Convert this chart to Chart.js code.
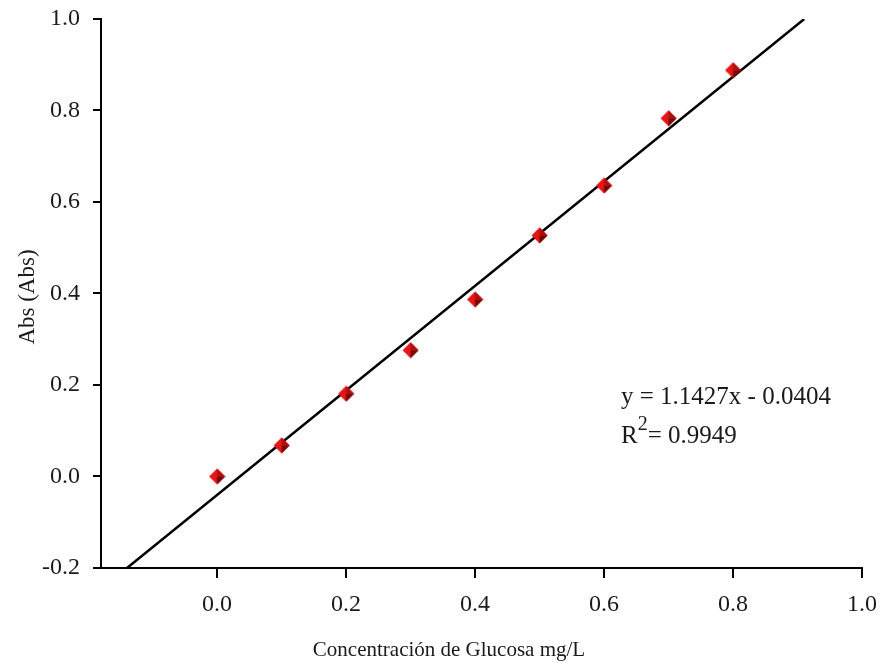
<!DOCTYPE html>
<html>
<head>
<meta charset="utf-8">
<script src="https://cdn.jsdelivr.net/npm/chart.js@4.4.1/dist/chart.umd.min.js"></script>
<style>
html,body{margin:0;padding:0;background:#fff;}
</style>
</head>
<body>
<canvas id="calib" width="884" height="668"></canvas>
<script>
// datos de la curva de calibracion
var concentracion = [0.0, 0.1, 0.2, 0.3, 0.4, 0.5, 0.6, 0.7, 0.8];
var absorbancia   = [0.0, 0.068, 0.181, 0.276, 0.387, 0.527, 0.636, 0.783, 0.888];
var xTicks = [0.0, 0.2, 0.4, 0.6, 0.8, 1.0];
var yTicks = [-0.2, 0.0, 0.2, 0.4, 0.6, 0.8, 1.0];
var pendiente = 1.1427;
var intercepto = -0.0404;
var r2 = 0.9949;
var xMin = -0.18, xMax = 1.0, yMin = -0.2, yMax = 1.0;

var serif = '"Liberation Serif", "DejaVu Serif", serif';

// marcador rombo rojo con sombra
function diamond(){
    var c = document.createElement('canvas');
    c.width = 17; c.height = 17;
    var g = c.getContext('2d');
    g.fillStyle = '#e51616';
    g.beginPath();
    g.moveTo(8.5, 0.5); g.lineTo(16.5, 8.5); g.lineTo(8.5, 16.5); g.lineTo(0.5, 8.5);
    g.closePath(); g.fill();
    g.fillStyle = '#720707';
    g.beginPath();
    g.moveTo(8.5, 8.5); g.lineTo(16.5, 8.5); g.lineTo(8.5, 16.5);
    g.closePath(); g.fill();
    g.fillStyle = '#b00f0f';
    g.beginPath();
    g.moveTo(8.5, 8.5); g.lineTo(8.5, 0.5); g.lineTo(16.5, 8.5);
    g.closePath(); g.fill();
    return c;
}

var puntos = [];
for(let i=0; i<concentracion.length; i++){
    puntos.push({x: concentracion[i], y: absorbancia[i]});
}
// recta de regresion entre y=-0.2 y y=1.0
var recta = [
    {x: (yMin - intercepto) / pendiente, y: yMin},
    {x: (yMax - intercepto) / pendiente, y: yMax}
];

var textos = {
    id: 'textos',
    afterDraw: function(chart){
        var ctx = chart.ctx;
        var a = chart.chartArea;
        ctx.save();
        // prolongacion del eje x a la izquierda
        ctx.strokeStyle = '#000';
        ctx.lineWidth = 2;
        ctx.beginPath();
        ctx.moveTo(a.left - 8, a.bottom);
        ctx.lineTo(a.left, a.bottom);
        ctx.stroke();

        ctx.fillStyle = '#1a1a1a';
        ctx.font = '21px ' + serif;
        ctx.textAlign = 'center';
        ctx.textBaseline = 'middle';
        ctx.fillText('Concentración de Glucosa mg/L', 449, 650);

        ctx.font = '23px ' + serif;
        ctx.translate(28, 297);
        ctx.rotate(-Math.PI / 2);
        ctx.fillText('Abs (Abs)', 0, 0);
        ctx.restore();

        ctx.save();
        ctx.fillStyle = '#1a1a1a';
        ctx.textAlign = 'left';
        ctx.textBaseline = 'alphabetic';
        ctx.font = '25px ' + serif;
        ctx.fillText('y = ' + pendiente + 'x - ' + Math.abs(intercepto).toFixed(4), 621, 404);
        ctx.fillText('R', 621, 443);
        var w = ctx.measureText('R').width;
        ctx.font = '20px ' + serif;
        ctx.fillText('2', 621 + w, 430);
        var w2 = ctx.measureText('2').width;
        ctx.font = '25px ' + serif;
        ctx.fillText('= ' + r2.toFixed(4), 621 + w + w2, 443);
        ctx.restore();
    }
};

new Chart(document.getElementById('calib'), {
    type: 'scatter',
    data: {
        datasets: [
            {
                label: 'datos',
                data: puntos,
                pointStyle: diamond(),
                pointRadius: 8,
                pointHoverRadius: 8,
                order: 0
            },
            {
                label: 'regresion',
                type: 'line',
                data: recta,
                borderColor: '#000',
                borderWidth: 2.5,
                pointRadius: 0,
                fill: false,
                order: 1
            }
        ]
    },
    options: {
        responsive: false,
        animation: false,
        events: [],
        layout: { padding: { top: 19, right: 22, left: 0, bottom: 0 } },
        plugins: { legend: { display: false }, tooltip: { enabled: false } },
        scales: {
            x: {
                type: 'linear',
                min: xMin, max: xMax,
                afterBuildTicks: function(s){ s.ticks = xTicks.map(function(v){ return {value: v}; }); },
                afterFit: function(s){ s.height = 100; s.paddingLeft = 0; s.paddingRight = 0; },
                border: { display: true, color: '#000', width: 2 },
                grid: { display: true, drawOnChartArea: false, drawTicks: true, tickLength: 10, color: '#000', lineWidth: 2 },
                ticks: {
                    padding: 12,
                    color: '#1a1a1a',
                    font: { family: serif, size: 24 },
                    maxRotation: 0,
                    callback: function(v){ return Number(v).toFixed(1); }
                }
            },
            y: {
                type: 'linear',
                min: yMin, max: yMax,
                afterBuildTicks: function(s){ s.ticks = yTicks.map(function(v){ return {value: v}; }); },
                afterFit: function(s){ s.width = 101; s.paddingTop = 0; s.paddingBottom = 0; },
                border: { display: true, color: '#000', width: 2 },
                grid: { display: true, drawOnChartArea: false, drawTicks: true, tickLength: 8, color: '#000', lineWidth: 2 },
                ticks: {
                    padding: 13,
                    color: '#1a1a1a',
                    font: { family: serif, size: 24 },
                    callback: function(v){ return Number(v).toFixed(1); }
                }
            }
        }
    },
    plugins: [textos]
});
</script>
</body>
</html>
